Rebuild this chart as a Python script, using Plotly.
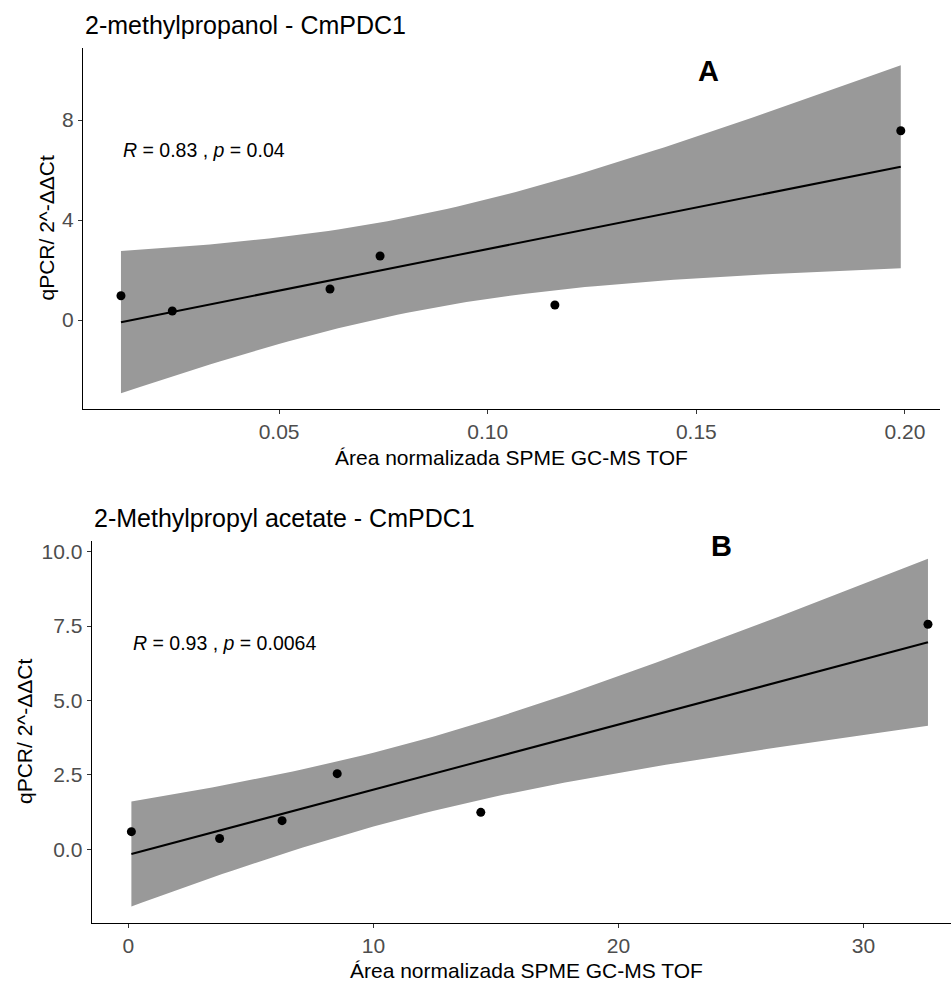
import numpy as np
import plotly.graph_objects as go

# ---- data ----
x_a = [0.0121, 0.0244, 0.0622, 0.0742, 0.1161, 0.1990]
y_a = [0.97, 0.36, 1.24, 2.56, 0.60, 7.57]
x_b = [0.12, 3.72, 6.27, 8.52, 14.38, 32.63]
y_b = [0.59, 0.36, 0.96, 2.54, 1.24, 7.56]

titles = ["2-methylpropanol - CmPDC1", "2-Methylpropyl acetate - CmPDC1"]
panel_labels = ["A", "B"]
cor_labels = ["<i>R</i> = 0.83 , <i>p</i> = 0.04", "<i>R</i> = 0.93 , <i>p</i> = 0.0064"]
x_title = "Área normalizada SPME GC-MS TOF"
y_title = "qPCR/ 2^-ΔΔCt"
xticks_a = [0.05, 0.10, 0.15, 0.20]
yticks_a = [0, 4, 8]
xticks_b = [0, 10, 20, 30]
yticks_b = [0.0, 2.5, 5.0, 7.5, 10.0]

T975_DF4 = 2.7764451  # t quantile for 95% CI, n-2 = 4


def fit(x, y):
    x = np.asarray(x, float)
    y = np.asarray(y, float)
    n = len(x)
    b, a = np.polyfit(x, y, 1)
    xs = np.linspace(x.min(), x.max(), 80)
    yhat = a + b * xs
    resid = y - (a + b * x)
    s = np.sqrt((resid ** 2).sum() / (n - 2))
    sxx = ((x - x.mean()) ** 2).sum()
    se = s * np.sqrt(1.0 / n + (xs - x.mean()) ** 2 / sxx)
    return xs, yhat, yhat - T975_DF4 * se, yhat + T975_DF4 * se


FONT = "Liberation Sans, Arial, sans-serif"
W, H = 951, 982

fig = go.Figure()

panels = [
    dict(x=x_a, y=y_a, xa="x", ya="y"),
    dict(x=x_b, y=y_b, xa="x2", ya="y2"),
]
for p in panels:
    xs, yh, lo, hi = fit(p["x"], p["y"])
    fig.add_trace(go.Scatter(
        x=np.concatenate([xs, xs[::-1]]), y=np.concatenate([hi, lo[::-1]]),
        fill="toself", fillcolor="#999999", line=dict(width=0),
        mode="lines", hoverinfo="skip", showlegend=False,
        xaxis=p["xa"], yaxis=p["ya"]))
    fig.add_trace(go.Scatter(
        x=xs, y=yh, mode="lines", line=dict(color="black", width=2),
        showlegend=False, xaxis=p["xa"], yaxis=p["ya"]))
    fig.add_trace(go.Scatter(
        x=p["x"], y=p["y"], mode="markers",
        marker=dict(color="black", size=9), showlegend=False,
        xaxis=p["xa"], yaxis=p["ya"]))


def px_x(px):
    return px / W


def px_y(py):
    return 1 - py / H


axis_common = dict(
    showline=True, linecolor="black", linewidth=1.2,
    ticks="outside", ticklen=4, tickcolor="#333333", tickwidth=1.1,
    showgrid=False, zeroline=False,
    tickfont=dict(family=FONT, size=21, color="#4D4D4D"),
)

fig.update_layout(
    width=W, height=H,
    margin=dict(l=0, r=0, t=0, b=0),
    paper_bgcolor="white", plot_bgcolor="white",
    font=dict(family=FONT, color="black"),
    xaxis=dict(domain=[px_x(83), px_x(940)], range=[0.003, 0.2084],
               tickvals=xticks_a, tickformat=".2f", anchor="y", **axis_common),
    yaxis=dict(domain=[px_y(409), px_y(48)], range=[-3.56, 10.88],
               tickvals=yticks_a, anchor="x", **axis_common),
    xaxis2=dict(domain=[px_x(91.7), 1.0], range=[-1.5, 33.57],
                tickvals=xticks_b, anchor="y2", **axis_common),
    yaxis2=dict(domain=[px_y(922.7), px_y(541)], range=[-2.47, 10.36],
                tickvals=yticks_b, tickformat=".1f", anchor="x2", **axis_common),
)

ann = []
# titles
ann.append(dict(text=titles[0], x=px_x(83), y=px_y(25), xref="paper", yref="paper",
                xanchor="left", yanchor="middle", showarrow=False,
                font=dict(family=FONT, size=25, color="black")))
ann.append(dict(text=titles[1], x=px_x(91.7), y=px_y(518), xref="paper", yref="paper",
                xanchor="left", yanchor="middle", showarrow=False,
                font=dict(family=FONT, size=25, color="black")))
# y-axis titles
for xc, yc in [(46, 228.5), (24, 732)]:
    ann.append(dict(text=y_title, x=px_x(xc), y=px_y(yc), xref="paper", yref="paper",
                    xanchor="center", yanchor="middle", textangle=-90, showarrow=False,
                    font=dict(family=FONT, size=21, color="black")))
# x-axis titles
ann.append(dict(text=x_title, x=px_x((83 + 940) / 2), y=px_y(458), xref="paper", yref="paper",
                xanchor="center", yanchor="middle", showarrow=False,
                font=dict(family=FONT, size=21, color="black")))
ann.append(dict(text=x_title, x=px_x(526), y=px_y(970), xref="paper", yref="paper",
                xanchor="center", yanchor="middle", showarrow=False,
                font=dict(family=FONT, size=21, color="black")))
# correlation labels
ann.append(dict(text=cor_labels[0], x=min(x_a), y=6.8, xref="x", yref="y",
                xanchor="left", yanchor="middle", showarrow=False,
                font=dict(family=FONT, size=19.5, color="black")))
ann.append(dict(text=cor_labels[1], x=min(x_b), y=6.93, xref="x2", yref="y2",
                xanchor="left", yanchor="middle", showarrow=False,
                font=dict(family=FONT, size=19.5, color="black")))
# panel letters
ann.append(dict(text="<b>" + panel_labels[0] + "</b>", x=0.1528, y=9.96, xref="x", yref="y",
                xanchor="center", yanchor="middle", showarrow=False,
                font=dict(family=FONT, size=29, color="black")))
ann.append(dict(text="<b>" + panel_labels[1] + "</b>", x=24.2, y=10.2, xref="x2", yref="y2",
                xanchor="center", yanchor="middle", showarrow=False,
                font=dict(family=FONT, size=29, color="black")))
fig.update_layout(annotations=ann)

fig.write_html("out.html")
